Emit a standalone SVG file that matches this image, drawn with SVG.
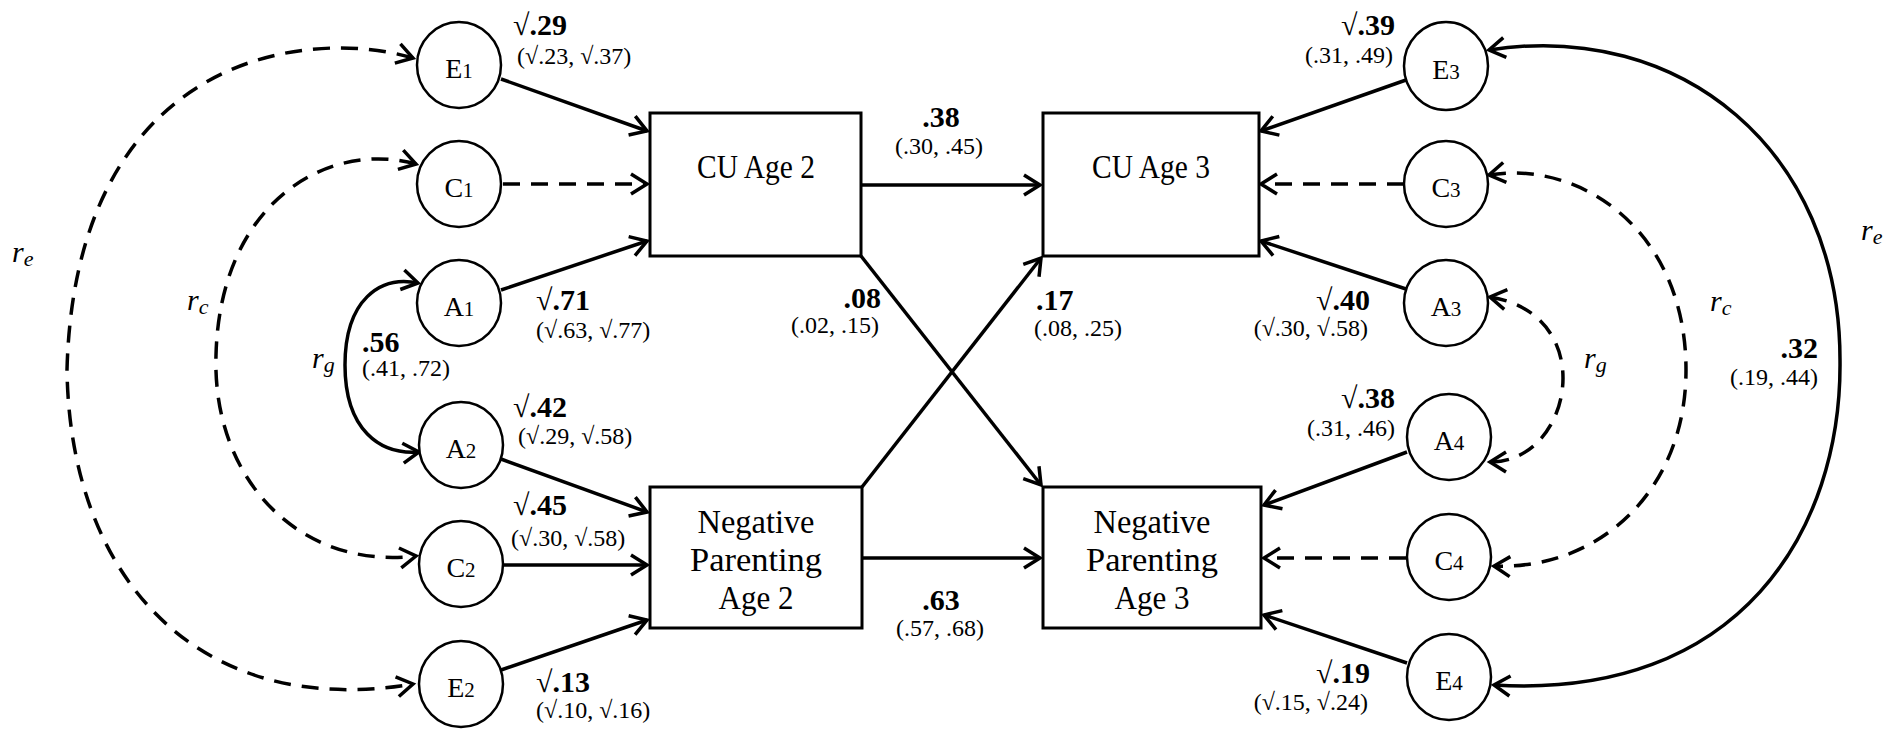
<svg xmlns="http://www.w3.org/2000/svg" width="1900" height="731" viewBox="0 0 1900 731">
<style>
.bg{fill:#fff}
.box{fill:#fff;stroke:#000;stroke-width:3}
.lat{fill:#fff;stroke:#000;stroke-width:2.5}
.ln{fill:none;stroke:#000;stroke-width:3.5}
.dash{fill:none;stroke:#000;stroke-width:3.5;stroke-dasharray:17 11}
.arr{marker-end:url(#ah)}
.both{marker-start:url(#ah);marker-end:url(#ah)}
text{font-family:"Liberation Serif","Times New Roman",serif;fill:#000}
.bt{font-size:33px;text-anchor:middle}
.lt{font-size:28px;text-anchor:middle}
.sub{font-size:21px}
.b{font-size:30px;font-weight:bold}
.ci{font-size:24px}
.rv{font-weight:normal}
.r{font-size:30px;font-style:italic}
.rs{font-size:22px}
.mid{text-anchor:middle}
.end{text-anchor:end}
</style>
<defs>
<marker id="ah" markerUnits="userSpaceOnUse" markerWidth="30" markerHeight="30" viewBox="-20 -15 30 30" refX="0" refY="0" orient="auto-start-reverse">
<path d="M-16,-10 L0,0 L-16,10" fill="none" stroke="#000" stroke-width="3.5" stroke-dasharray="none" stroke-linejoin="miter"/>
</marker>
</defs>
<rect class="bg" x="0" y="0" width="1900" height="731"/>

<g id="connectors">
<line class="ln arr" x1="501" y1="79" x2="647" y2="131"/>
<line class="dash arr" x1="503" y1="184" x2="647" y2="184"/>
<line class="ln arr" x1="501" y1="290" x2="647" y2="241"/>
<line class="ln arr" x1="501" y1="459" x2="647" y2="512"/>
<line class="ln arr" x1="503" y1="565" x2="647" y2="565"/>
<line class="ln arr" x1="501" y1="670" x2="647" y2="620"/>
<line class="ln arr" x1="1406" y1="80" x2="1261" y2="131"/>
<line class="dash arr" x1="1404" y1="184" x2="1261" y2="184"/>
<line class="ln arr" x1="1406" y1="289" x2="1261" y2="241"/>
<line class="ln arr" x1="1407" y1="452" x2="1264" y2="505"/>
<line class="dash arr" x1="1406" y1="558" x2="1264" y2="558"/>
<line class="ln arr" x1="1407" y1="663" x2="1264" y2="615"/>
<line class="ln arr" x1="861" y1="185" x2="1040" y2="185"/>
<line class="ln arr" x1="862" y1="558" x2="1040" y2="558"/>
<line class="ln arr" x1="861" y1="256" x2="1041" y2="485"/>
<line class="ln arr" x1="862" y1="487" x2="1041" y2="258"/>
<path class="dash both" d="M413,58 C300,25 75,60 67,370 C70,580 200,720 413,684"/>
<path class="dash both" d="M416,164 C330,140 220,200 216,355 C212,480 300,570 416,556"/>
<path class="ln both" d="M418,283 C380,275 345,300 345,365 C345,430 380,455 419,452"/>
<path class="ln both" d="M1489,50 C1680,20 1840,150 1840,360 C1842,530 1740,700 1494,685"/>
<path class="dash both" d="M1489,175 C1580,160 1686,230 1686,370 C1686,490 1600,570 1494,566"/>
<path class="dash both" d="M1490,297 C1540,305 1563,340 1563,378 C1563,420 1535,462 1490,462"/>
</g>

<g id="cu2"><rect class="box" x="650" y="113" width="211" height="143"/><text class="bt" x="756" y="178" textLength="118" lengthAdjust="spacingAndGlyphs">CU Age 2</text></g>
<g id="cu3"><rect class="box" x="1043" y="113" width="216" height="143"/><text class="bt" x="1151" y="178" textLength="118" lengthAdjust="spacingAndGlyphs">CU Age 3</text></g>
<g id="np2"><rect class="box" x="650" y="487" width="212" height="141"/>
<text class="bt" x="756" y="533" textLength="117" lengthAdjust="spacingAndGlyphs">Negative</text>
<text class="bt" x="756" y="571" textLength="132" lengthAdjust="spacingAndGlyphs">Parenting</text>
<text class="bt" x="756" y="609" textLength="75" lengthAdjust="spacingAndGlyphs">Age 2</text></g>
<g id="np3"><rect class="box" x="1043" y="487" width="218" height="141"/>
<text class="bt" x="1152" y="533" textLength="117" lengthAdjust="spacingAndGlyphs">Negative</text>
<text class="bt" x="1152" y="571" textLength="132" lengthAdjust="spacingAndGlyphs">Parenting</text>
<text class="bt" x="1152" y="609" textLength="75" lengthAdjust="spacingAndGlyphs">Age 3</text></g>

<g id="E1"><ellipse class="lat" cx="459" cy="65" rx="42" ry="43"/><text class="lt" x="459" y="78">E<tspan class="sub">1</tspan></text></g>
<g id="C1"><ellipse class="lat" cx="459" cy="184" rx="42" ry="43"/><text class="lt" x="459" y="197">C<tspan class="sub">1</tspan></text></g>
<g id="A1"><ellipse class="lat" cx="459" cy="303" rx="42" ry="43"/><text class="lt" x="459" y="316">A<tspan class="sub">1</tspan></text></g>
<g id="A2"><ellipse class="lat" cx="461" cy="445" rx="42" ry="43"/><text class="lt" x="461" y="458">A<tspan class="sub">2</tspan></text></g>
<g id="C2"><ellipse class="lat" cx="461" cy="564" rx="42" ry="43"/><text class="lt" x="461" y="577">C<tspan class="sub">2</tspan></text></g>
<g id="E2"><ellipse class="lat" cx="461" cy="684" rx="42" ry="43"/><text class="lt" x="461" y="697">E<tspan class="sub">2</tspan></text></g>

<g id="E3"><ellipse class="lat" cx="1446" cy="66" rx="42" ry="44"/><text class="lt" x="1446" y="79">E<tspan class="sub">3</tspan></text></g>
<g id="C3"><ellipse class="lat" cx="1446" cy="184" rx="42" ry="43"/><text class="lt" x="1446" y="197">C<tspan class="sub">3</tspan></text></g>
<g id="A3"><ellipse class="lat" cx="1446" cy="303" rx="42" ry="43"/><text class="lt" x="1446" y="316">A<tspan class="sub">3</tspan></text></g>
<g id="A4"><ellipse class="lat" cx="1449" cy="437" rx="42" ry="43"/><text class="lt" x="1449" y="450">A<tspan class="sub">4</tspan></text></g>
<g id="C4"><ellipse class="lat" cx="1449" cy="557" rx="42" ry="43"/><text class="lt" x="1449" y="570">C<tspan class="sub">4</tspan></text></g>
<g id="E4"><ellipse class="lat" cx="1449" cy="677" rx="42" ry="43"/><text class="lt" x="1449" y="690">E<tspan class="sub">4</tspan></text></g>

<g id="labels">
<text class="b" x="513" y="35"><tspan class="rv">√</tspan>.29</text>
<text class="ci" x="517" y="64">(√.23, √.37)</text>
<text class="b" x="536" y="310"><tspan class="rv">√</tspan>.71</text>
<text class="ci" x="536" y="338">(√.63, √.77)</text>
<text class="b" x="362" y="352">.56</text>
<text class="ci" x="362" y="376">(.41, .72)</text>
<text class="b" x="513" y="417"><tspan class="rv">√</tspan>.42</text>
<text class="ci" x="518" y="444">(√.29, √.58)</text>
<text class="b" x="513" y="515"><tspan class="rv">√</tspan>.45</text>
<text class="ci" x="511" y="546">(√.30, √.58)</text>
<text class="b" x="536" y="692"><tspan class="rv">√</tspan>.13</text>
<text class="ci" x="536" y="718">(√.10, √.16)</text>
<text class="b mid" x="941" y="127">.38</text>
<text class="ci mid" x="939" y="154">(.30, .45)</text>
<text class="b end" x="881" y="308">.08</text>
<text class="ci end" x="879" y="333">(.02, .15)</text>
<text class="b" x="1036" y="310">.17</text>
<text class="ci" x="1034" y="336">(.08, .25)</text>
<text class="b mid" x="941" y="610">.63</text>
<text class="ci mid" x="940" y="636">(.57, .68)</text>
<text class="b end" x="1395" y="35"><tspan class="rv">√</tspan>.39</text>
<text class="ci end" x="1393" y="63">(.31, .49)</text>
<text class="b end" x="1370" y="310"><tspan class="rv">√</tspan>.40</text>
<text class="ci end" x="1368" y="336">(√.30, √.58)</text>
<text class="b end" x="1395" y="408"><tspan class="rv">√</tspan>.38</text>
<text class="ci end" x="1395" y="436">(.31, .46)</text>
<text class="b end" x="1370" y="683"><tspan class="rv">√</tspan>.19</text>
<text class="ci end" x="1368" y="710">(√.15, √.24)</text>
<text class="b end" x="1818" y="358">.32</text>
<text class="ci end" x="1818" y="385">(.19, .44)</text>
<text class="r" x="12" y="262">r<tspan class="rs" dy="4">e</tspan></text>
<text class="r" x="187" y="310">r<tspan class="rs" dy="4">c</tspan></text>
<text class="r" x="312" y="368">r<tspan class="rs" dy="4">g</tspan></text>
<text class="r" x="1861" y="240">r<tspan class="rs" dy="4">e</tspan></text>
<text class="r" x="1710" y="311">r<tspan class="rs" dy="4">c</tspan></text>
<text class="r" x="1584" y="368">r<tspan class="rs" dy="4">g</tspan></text>
</g>
</svg>
